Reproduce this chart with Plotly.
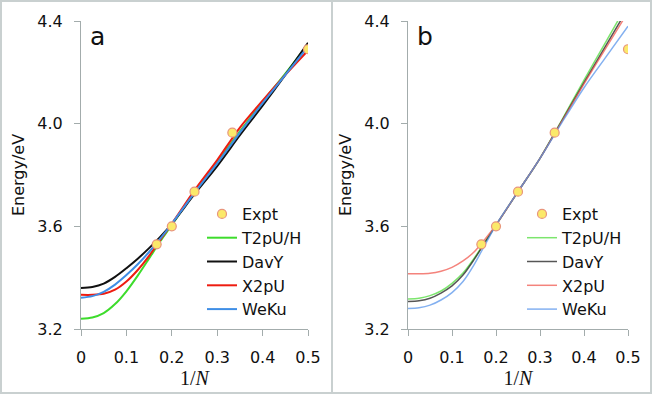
import plotly.graph_objects as go

# experiment: 1/N and excitation energy
expt_x = [1 / 6, 1 / 5, 1 / 4, 1 / 3, 1 / 2]
expt_y = [3.53, 3.60, 3.735, 3.965, 4.29]

fit_x = [0, 0.025, 0.05, 0.075, 0.1, 0.125, 0.15, 0.175, 0.2,
         0.25, 0.3, 0.35, 0.4, 0.45, 0.5]

# panel a
a_t2pu = [3.24, 3.245, 3.262, 3.297, 3.347, 3.408, 3.475, 3.543, 3.605,
          3.735, 3.85, 3.97, 4.085, 4.195, 4.31]
a_davy = [3.36, 3.364, 3.377, 3.403, 3.437, 3.474, 3.515, 3.56, 3.61,
          3.725, 3.835, 3.955, 4.07, 4.19, 4.315]
a_x2pu = [3.333, 3.333, 3.337, 3.353, 3.385, 3.43, 3.485, 3.548, 3.61,
          3.74, 3.858, 3.985, 4.09, 4.19, 4.285]
a_weku = [3.322, 3.328, 3.345, 3.373, 3.41, 3.452, 3.50, 3.553, 3.61,
          3.73, 3.845, 3.965, 4.08, 4.19, 4.30]

# panel b
b_t2pu = [3.317, 3.32, 3.33, 3.348, 3.378, 3.418, 3.475, 3.54, 3.605,
          3.735, 3.865, 4.015, 4.17, 4.32, 4.47]
b_davy = [3.307, 3.31, 3.32, 3.34, 3.368, 3.41, 3.47, 3.537, 3.605,
          3.735, 3.865, 4.012, 4.16, 4.305, 4.45]
b_x2pu = [3.415, 3.415, 3.417, 3.425, 3.44, 3.465, 3.50, 3.55, 3.605,
          3.735, 3.865, 4.01, 4.155, 4.295, 4.435]
b_weku = [3.28, 3.283, 3.293, 3.313, 3.342, 3.385, 3.45, 3.528, 3.605,
          3.735, 3.865, 4.005, 4.14, 4.26, 4.38]

x_ticks = [0, 0.1, 0.2, 0.3, 0.4, 0.5]
y_ticks = [3.2, 3.6, 4.0, 4.4]

W, H = 653, 395
axis_col = "#a3acac"
frame_col = "#c9d0d0"
font = "DejaVu Sans"

fig = go.Figure()

panels = [
    ("", "legend", [a_t2pu, a_davy, a_x2pu, a_weku],
     ["#3ddc2c", "#111111", "#ee1c10", "#3f8ee6"], 2),
    ("2", "legend2", [b_t2pu, b_davy, b_x2pu, b_weku],
     ["rgba(80,220,60,0.75)", "rgba(30,30,30,0.75)",
      "rgba(240,90,80,0.75)", "rgba(90,150,235,0.75)"], 1.5),
]
names = ["T2pU/H", "DavY", "X2pU", "WeKu"]

for suffix, leg, curves, colors, lw in panels:
    for name, ys, col in zip(names, curves, colors):
        fig.add_trace(go.Scatter(
            x=fit_x, y=ys, mode="lines", name=name,
            line=dict(color=col, width=lw, shape="spline", smoothing=0.8),
            xaxis="x" + suffix, yaxis="y" + suffix, legend=leg
        ))
    fig.add_trace(go.Scatter(
        x=expt_x, y=expt_y, mode="markers", name="Expt",
        marker=dict(size=9, color="#fbe96a", line=dict(color="#e8957c", width=1.2)),
        xaxis="x" + suffix, yaxis="y" + suffix, legend=leg, legendrank=1
    ))

ax_common = dict(
    showgrid=False, zeroline=False, showline=True, linecolor=axis_col,
    linewidth=1, ticks="outside", ticklen=6, tickcolor=axis_col,
    tickfont=dict(family=font, size=16, color="#111"),
    ticklabelstandoff=8, automargin=False,
)
x_common = dict(ax_common, range=[0, 0.5], tickvals=x_ticks,
                ticktext=["0", "0.1", "0.2", "0.3", "0.4", "0.5"],
                title=dict(text="1/<i>N</i>", standoff=4,
                           font=dict(family="Liberation Serif", size=20, color="#111")))
y_common = dict(ax_common, range=[3.2, 4.4], tickvals=y_ticks,
                ticktext=["3.2", "3.6", "4.0", "4.4"],
                title=dict(text="Energy/eV", standoff=8,
                           font=dict(family=font, size=16, color="#111")))

y_dom = [1 - 329 / H, 1 - 21 / H]
leg_common = dict(font=dict(family=font, size=16, color="#111"),
                  bgcolor="rgba(0,0,0,0)", yanchor="top", xanchor="left",
                  y=1 - 197 / H, traceorder="normal")

fig.update_layout(
    width=W, height=H,
    paper_bgcolor="white", plot_bgcolor="white",
    margin=dict(l=0, r=0, t=0, b=0),
    xaxis=dict(x_common, domain=[81 / W, 308 / W], anchor="y"),
    yaxis=dict(y_common, domain=y_dom, anchor="x"),
    xaxis2=dict(x_common, domain=[408 / W, 628 / W], anchor="y2"),
    yaxis2=dict(y_common, domain=y_dom, anchor="x2"),
    legend=dict(leg_common, x=202 / W),
    legend2=dict(leg_common, x=522 / W),
    showlegend=True,
    annotations=[
        dict(text="a", x=0.015, y=4.34, xref="x", yref="y", showarrow=False,
             xanchor="left", yanchor="middle", font=dict(family=font, size=25, color="#111")),
        dict(text="b", x=0.015, y=4.34, xref="x2", yref="y2", showarrow=False,
             xanchor="left", yanchor="middle", font=dict(family=font, size=25, color="#111")),
    ],
    shapes=[
        dict(type="rect", xref="paper", yref="paper", x0=1 / W, x1=1 - 2 / W,
             y0=2 / H, y1=1 - 1 / H, line=dict(color=frame_col, width=2)),
        dict(type="line", xref="paper", yref="paper", x0=332 / W, x1=332 / W,
             y0=2 / H, y1=1 - 1 / H, line=dict(color=frame_col, width=2)),
    ],
)

# the page body has a default 8px margin; drop it so the figure fills the window
fig.write_html("out.html", config={"displayModeBar": False},
               post_script="document.body.style.margin='0';")
